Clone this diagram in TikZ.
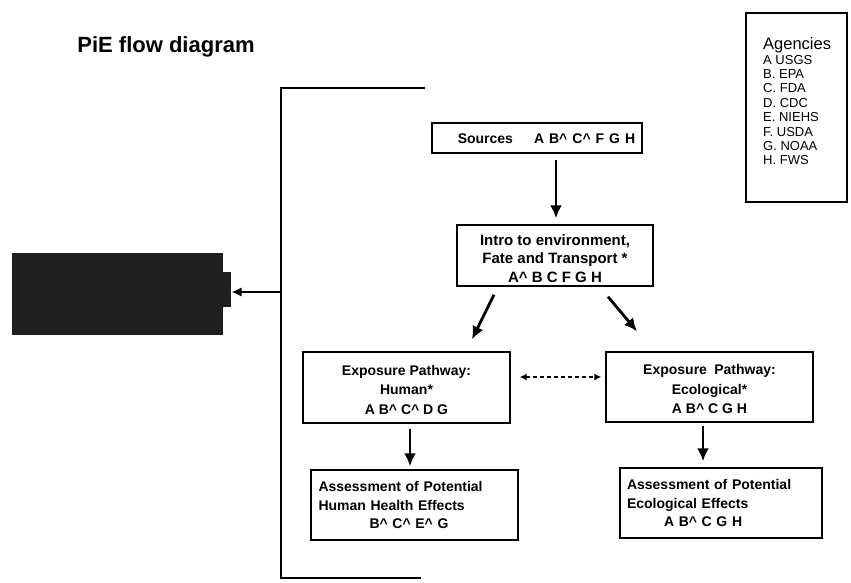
\documentclass[tikz,border=0pt]{standalone}
\usepackage{fontspec}
\setmainfont{Liberation Sans}
\usetikzlibrary{arrows.meta,calc}
\newcommand{\crt}{\textasciicircum}
\newcommand{\dn}[1]{\rule{0pt}{#1}}
\begin{document}
\begin{tikzpicture}[x=1pt,y=1pt,
  box/.style={draw=black,line width=1.4pt,inner sep=0pt,font=\bfseries\fontsize{14}{19.5}\selectfont,align=center},
  flow/.style={line width=2.8pt,-{Latex[length=13pt,width=12pt]}},
  dflow/.style={line width=1.3pt,dash pattern=on 4pt off 3pt,{Latex[length=7pt,width=7pt]}-{Latex[length=7pt,width=7pt]}},
  bracket/.style={line width=1.3pt},
  thin/.style={line width=1.1pt,-{Latex[length=10pt,width=9pt]}}]
\useasboundingbox (0,0) rectangle (851,-582);
\node[font=\bfseries\fontsize{22}{24}\selectfont] (title) at (166,-47) {PiE flow diagram};
% agencies
\node[draw,line width=1.3pt,minimum width=101pt,minimum height=189pt] (ag) at (796.5,-107.5) {};
\node[anchor=north west,align=left,inner sep=0pt,font=\fontsize{13}{14.4}\selectfont] (aglist) at (763,-37.5)
 {{\fontsize{16.5}{15}\selectfont Agencies}\\A USGS\\B. EPA\\C. FDA\\D. CDC\\E. NIEHS\\F. USDA\\G. NOAA\\H. FWS};
% black box
\node[fill=black!88,minimum width=211pt,minimum height=82pt,inner sep=0pt] (blk) at (117.5,-294) {};
\node[fill=black!88,minimum width=8pt,minimum height=35pt,inner sep=0pt,anchor=west] (tab) at (blk.east |- 0,-289.5) {};
% boxes
\node[box,minimum width=210pt,minimum height=30pt] (src) at (537,-138) {\hspace*{19pt}Sources\hspace{21pt}A\hspace{5pt}B\crt\hspace{5pt}C\crt\hspace{5pt}F\hspace{5pt}G\hspace{5pt}H\dn{12pt}};
\node[box,minimum width=196pt,minimum height=61pt,font=\bfseries\fontsize{15}{18.5}\selectfont] (intro) at (555,-255.5) {\dn{17pt}Intro to environment,\\Fate and Transport *\\A\crt{} B C F G H};
\node[box,minimum width=207pt,minimum height=71pt] (hum) at (406.5,-387.5) {\dn{15pt}Exposure Pathway:\\Human*\\A B\crt{} C\crt{} D G};
\node[box,minimum width=207pt,minimum height=70pt] (eco) at (709.5,-387) {\dn{15pt}Exposure\hspace{0.25em} Pathway:\\Ecological*\\A B\crt{} C G H};
\node[box,minimum width=207pt,minimum height=70pt,align=left,text width=192pt,font=\bfseries\fontsize{14}{18.5}\selectfont] (huma) at (414.5,-505) {Assessment of Potential\\Human Health Effects\\\hspace{51pt}B\crt{} C\crt{} E\crt{} G};
\node[box,minimum width=202pt,minimum height=70pt,align=left,text width=188pt,font=\bfseries\fontsize{14}{18.5}\selectfont] (ecoa) at (721,-503) {Assessment of Potential\\Ecological Effects\\\hspace{37pt}A B\crt{} C G H};
% bracket
\coordinate (bt) at (425,-88);
\coordinate (btl) at (281,-88);
\coordinate (bbl) at (281,-578);
\coordinate (bb) at (421,-578);
\coordinate (bm) at (281,-292);
\draw[bracket] (bt) -- (btl) -- (bbl) -- (bb);
\draw[thin] (bm) -- (tab.east |- bm);
% arrows
\draw[flow] ($(src.south)+(19,-6)$) -- ($(intro.north)+(1,6)$);
\draw[flow] ($(intro.south)+(-61,-8)$) -- ($(hum.north)+(65.5,12)$);
\draw[flow] ($(intro.south)+(53,-10)$) -- ($(eco.north)+(-72.5,20)$);
\draw[dflow] ($(hum.east)+(9,10.5)$) -- ($(eco.west)+(-4,10)$);
\draw[flow] ($(hum.south)+(3.5,-5)$) -- ($(huma.north)+(-4.5,3)$);
\draw[flow] ($(eco.south)+(-6.5,-3)$) -- ($(ecoa.north)+(-18,6)$);
\end{tikzpicture}
\end{document}
